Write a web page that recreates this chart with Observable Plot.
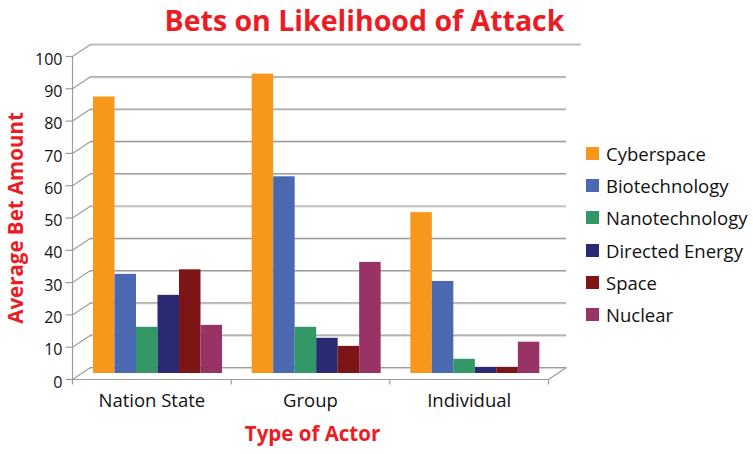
<!DOCTYPE html>
<html>
<head>
<meta charset="utf-8">
<script src="https://cdn.jsdelivr.net/npm/d3@7"></script>
<script src="https://cdn.jsdelivr.net/npm/@observablehq/plot@0.6"></script>
<style>
  html, body { margin: 0; padding: 0; background: #fff; }
  #wrap { position: relative; width: 753px; height: 454px; overflow: hidden; font-family: "Open Sans", sans-serif; }
  #title { position: absolute; left: 0; top: 0; width: 729px; height: 40px; line-height: 40px; text-align: center;
           font-weight: 700; font-size: 28.5px; color: #ED1C24; white-space: nowrap; }
  #chart { position: absolute; left: 0; top: 40px; }
  #legend { position: absolute; left: 586px; top: 137px; }
  .row { display: flex; align-items: center; height: 32.3px; font-size: 18.5px; color: #111; white-space: nowrap; }
  .sw { width: 13px; height: 13px; margin-right: 7px; flex: none; }
</style>
</head>
<body>
<div id="wrap">
  <div id="title">Bets on Likelihood of Attack</div>
  <div id="chart"></div>
  <div id="legend"></div>
</div>
<script>
// ---- data ----
const actors = ["Nation State", "Group", "Individual"];
const technologies = ["Cyberspace", "Biotechnology", "Nanotechnology", "Directed Energy", "Space", "Nuclear"];
const cyberspace     = [85.6, 92.7, 49.8];
const biotechnology  = [30.7, 60.9, 28.5];
const nanotechnology = [14.3, 14.3, 4.4];
const directedEnergy = [24.2, 10.9, 1.9];
const space          = [32.1, 8.4, 1.9];
const nuclear        = [14.9, 34.4, 9.7];
const yTicks = [0, 10, 20, 30, 40, 50, 60, 70, 80, 90, 100];
const colors = ["#F7981D", "#4B69B1", "#329966", "#2A2A72", "#7D1517", "#993366"];

const series = [cyberspace, biotechnology, nanotechnology, directedEnergy, space, nuclear];
const bars = [];
technologies.forEach((t, j) => actors.forEach((a, i) => bars.push({actor: a, ai: i, tech: t, tj: j, value: series[j][i]})));

// ---- layout (pixels) ----
const W = 580, H = 414, ML = 72, MR = 32, MT = 16, MB = 75;
const PXU_X = (W - ML - MR) / actors.length;   // px per actor band
const PXU_Y = (H - MT - MB) / 100;             // px per value unit
const DEPTH_X = 18, DEPTH_Y = 12;              // 3D depth offset (px)
const dX = DEPTH_X / PXU_X, dY = DEPTH_Y / PXU_Y;
const BAR_START = 21, BAR_W = 21.5;            // px inside each band
const grid = "#9c9c9c", gridLight = "#d6d6d6";
const bandEdges = d3.range(actors.length + 1);

const plot = Plot.plot({
  width: W, height: H,
  marginLeft: ML, marginRight: MR, marginTop: MT, marginBottom: MB,
  style: {fontFamily: "Open Sans, sans-serif", background: "transparent", overflow: "visible"},
  x: {domain: [0, actors.length], axis: null},
  y: {domain: [0, 100], axis: null},
  color: {domain: technologies, range: colors},
  marks: [
    // back wall gridlines (light shadow + line)
    Plot.ruleY(yTicks.filter(v => v < 100), {x1: 0, x2: actors.length, dx: DEPTH_X, dy: -DEPTH_Y + 1, stroke: gridLight, strokeWidth: 1}),
    Plot.ruleY(yTicks.filter(v => v < 100), {x1: 0, x2: actors.length, dx: DEPTH_X, dy: -DEPTH_Y, stroke: grid, strokeWidth: 1.2}),
    Plot.ruleY([100], {x1: 0, x2: actors.length + 15 / PXU_X, dx: DEPTH_X, dy: -DEPTH_Y, stroke: "#bdbdbd", strokeWidth: 2}),
    // depth diagonals from front axis to back wall
    Plot.link(yTicks, {x1: 0, y1: d => d, x2: dX, y2: d => d + dY, stroke: grid, strokeWidth: 1.2}),
    // front axis line
    Plot.ruleX([0], {y1: 0, y2: 100, stroke: grid, strokeWidth: 1.2}),
    // y tick marks
    Plot.link(yTicks, {x1: -7 / PXU_X, y1: d => d, x2: 0, y2: d => d, stroke: grid, strokeWidth: 1.2}),
    // floor: front edge, right diagonal, band separators
    Plot.ruleY([0], {x1: 0, x2: actors.length, stroke: grid, strokeWidth: 1.2}),
    Plot.link([actors.length], {x1: d => d, y1: 0, x2: d => d + dX, y2: dY, stroke: grid, strokeWidth: 1.2}),
    Plot.link(bandEdges, {x1: d => d, x2: d => d, y1: 0, y2: -5 / PXU_Y, stroke: grid, strokeWidth: 1.2}),
    // bars
    Plot.rectY(bars, {
      x1: d => d.ai + (BAR_START + d.tj * BAR_W) / PXU_X,
      x2: d => d.ai + (BAR_START + (d.tj + 1) * BAR_W) / PXU_X,
      y1: 0, y2: "value", fill: "tech", dy: -6
    }),
    // y tick labels
    Plot.text(yTicks, {x: 0, y: d => d, text: d => String(d), textAnchor: "end", dx: -10, dy: 3, fontSize: 16, fill: "#111"}),
    // x category labels
    Plot.text(actors, {x: (d, i) => i + 0.5, frameAnchor: "bottom", text: d => d, dy: 27, fontSize: 18.5, fill: "#111"}),
    // axis titles
    Plot.text(["Type of Actor"], {frameAnchor: "bottom", text: d => d, textAnchor: "middle", dx: 2, dy: 61.5, fontSize: 20.5, fontWeight: 700, fill: "#ED1C24"}),
    Plot.text(["Average Bet Amount"], {frameAnchor: "left", text: d => d, textAnchor: "middle", rotate: -90, dx: -56, dy: 0, fontSize: 20.5, fontWeight: 700, fill: "#ED1C24"})
  ]
});
document.getElementById("chart").appendChild(plot);

// legend
const legend = document.getElementById("legend");
technologies.forEach((t, j) => {
  const row = document.createElement("div");
  row.className = "row";
  row.innerHTML = `<span class="sw" style="background:${colors[j]}"></span><span>${t}</span>`;
  legend.appendChild(row);
});
</script>
</body>
</html>
